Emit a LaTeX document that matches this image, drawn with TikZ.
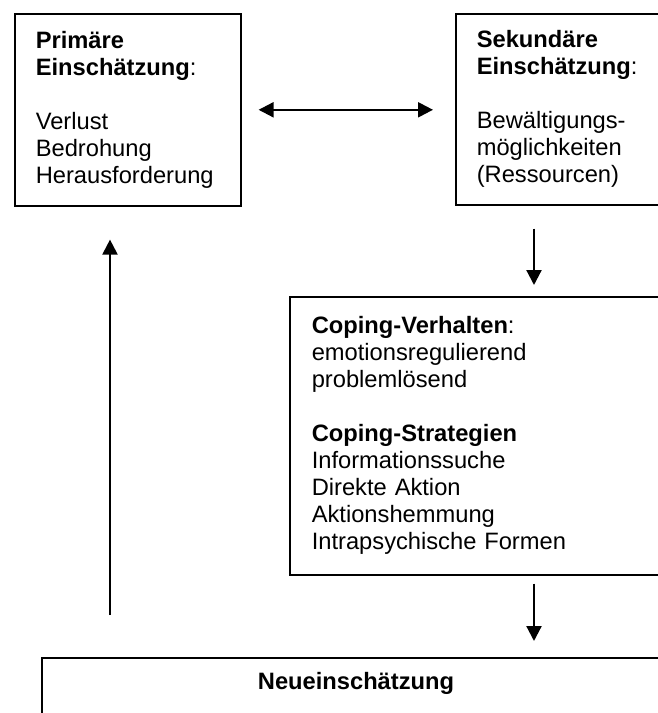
\documentclass[tikz,border=0pt]{standalone}
\usepackage{fontspec}
\setmainfont{Liberation Sans}
\usetikzlibrary{arrows.meta}

\begin{document}
\begin{tikzpicture}[x=1pt,y=-1pt,>={Triangle[length=15pt,width=15pt]},
    box/.style={draw,rectangle,line width=1.6pt,inner xsep=21pt,inner ysep=0pt,
      align=left,anchor=north west,font=\fontsize{23.7}{27}\selectfont},
    arr/.style={line width=2.2pt}]
            \useasboundingbox (0,0) rectangle (657,713);
            \node[box,text width=184pt,minimum height=192pt] (1) at (14,13)
              {\textbf{Primäre}\\ \textbf{Einschätzung}:\\[27pt] Verlust\\ Bedrohung\\ Herausforderung};
            \node[box,text width=184pt,minimum height=191pt] (2) at (455,13)
              {\textbf{Sekundäre}\\ \textbf{Einschätzung}:\\[27pt] Bewältigungs-\\ möglichkeiten\\ (Ressourcen)};
            \node[box,inner xsep=22pt,text width=347pt,minimum height=278pt] (3) at (289,296)
              {\textbf{Coping-Verhalten}:\\ emotionsregulierend\\ problemlösend\\[27pt]
               \textbf{Coping-Strategien}\\ Informationssuche\\ Direkte Aktion\\ Aktionshemmung\\ Intrapsychische Formen};
            \node[box,align=center,anchor=north,text width=586pt,inner ysep=15pt,text depth=80pt] (4) at (356,657)
              {\textbf{Neueinschätzung}};
            \coordinate (m) at (534,0);
            \coordinate (l) at (110,0);
            \draw [arr,<->,shorten <=17pt,shorten >=22pt] (1.east) -- (2.west |- 1.east);
            \draw [arr,->,shorten <=23pt,shorten >=11pt] (2.south -| m) -- (3.north -| m);
            \draw [arr,->,shorten <=8pt,shorten >=16pt] (3.south -| m) -- (4.north -| m);
            \draw [arr,->,shorten <=42pt,shorten >=33pt] (4.north -| l) -- (1.south -| l);
        \end{tikzpicture}
\end{document}
